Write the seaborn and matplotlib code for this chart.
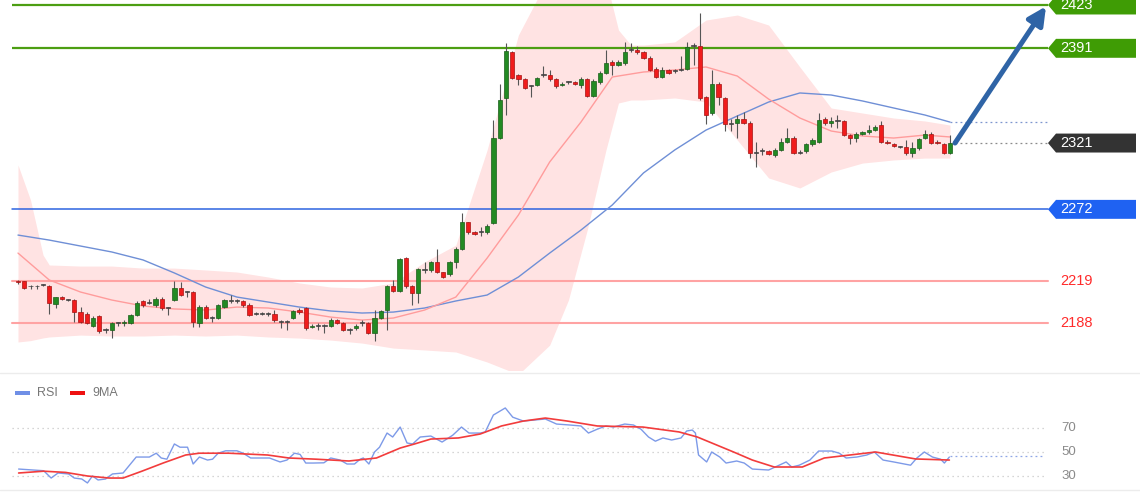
import numpy as np
import pandas as pd
import matplotlib
matplotlib.use("Agg")
import matplotlib.pyplot as plt
import seaborn as sns
from matplotlib.patches import Polygon, Rectangle

# ---------------- data ----------------
opens = [2219, 2219, 2215, 2215, 2216, 2215, 2202, 2207, 2205, 2205,
         2196, 2195, 2186, 2193, 2183, 2183, 2188, 2188, 2188, 2194,
         2204, 2203, 2201, 2206, 2199, 2205, 2214, 2211, 2211, 2188,
         2200, 2192, 2192, 2200, 2204, 2204, 2204, 2201, 2195, 2195,
         2195, 2195, 2189, 2189, 2192, 2198, 2199, 2185, 2186, 2186,
         2186, 2190, 2188, 2183, 2184, 2188, 2188, 2181, 2192, 2198,
         2215, 2212, 2236, 2215, 2210, 2227, 2227, 2233, 2226, 2224,
         2233, 2243, 2263, 2255, 2255, 2255, 2262, 2325, 2354, 2388,
         2371, 2368, 2363, 2364, 2371, 2371, 2368, 2364, 2366, 2366,
         2364, 2368, 2356, 2366, 2373, 2381, 2379, 2380, 2390, 2390,
         2388, 2384, 2376, 2370, 2375, 2374, 2375, 2376, 2393, 2393,
         2355, 2343, 2365, 2354, 2335, 2336, 2339, 2336, 2314, 2315,
         2315, 2312, 2316, 2322, 2325, 2314, 2315, 2320, 2322, 2339,
         2336, 2337, 2337, 2327, 2325, 2328, 2329, 2331, 2334, 2322,
         2320, 2318, 2318, 2314, 2317, 2325, 2328, 2322, 2320, 2314]
closes = [2218, 2214, 2215, 2215, 2216, 2203, 2207, 2206, 2205, 2196,
          2189, 2188, 2192, 2182, 2183, 2188, 2188, 2189, 2194, 2203,
          2201, 2203, 2206, 2199, 2199, 2214, 2209, 2211, 2189, 2200,
          2192, 2192, 2201, 2205, 2204, 2204, 2201, 2194, 2195, 2195,
          2195, 2190, 2189, 2189, 2197, 2196, 2184, 2186, 2186, 2186,
          2190, 2188, 2183, 2183, 2186, 2188, 2181, 2192, 2197, 2215,
          2212, 2235, 2215, 2210, 2228, 2227, 2233, 2226, 2222, 2233,
          2243, 2263, 2255, 2254, 2255, 2260, 2325, 2353, 2389, 2369,
          2368, 2362, 2363, 2369, 2371, 2368, 2363, 2365, 2366, 2365,
          2368, 2356, 2367, 2373, 2380, 2379, 2381, 2388, 2390, 2388,
          2384, 2375, 2370, 2375, 2373, 2374, 2375, 2392, 2393, 2354,
          2342, 2365, 2355, 2335, 2335, 2339, 2336, 2314, 2314, 2315,
          2313, 2316, 2322, 2325, 2314, 2314, 2320, 2323, 2338, 2336,
          2337, 2337, 2327, 2325, 2328, 2329, 2331, 2333, 2322, 2321,
          2319, 2318, 2314, 2317, 2324, 2328, 2321, 2321, 2314, 2321]
highs = [2220, 2219, 2216, 2216, 2217, 2216, 2207, 2208, 2206, 2206,
         2200, 2196, 2193, 2194, 2184, 2189, 2189, 2190, 2195, 2204,
         2205, 2206, 2207, 2207, 2200, 2219, 2218, 2212, 2212, 2201,
         2201, 2193, 2202, 2206, 2209, 2206, 2205, 2203, 2196, 2196,
         2196, 2198, 2190, 2190, 2198, 2199, 2200, 2187, 2188, 2187,
         2192, 2191, 2189, 2184, 2187, 2190, 2189, 2198, 2198, 2216,
         2220, 2236, 2237, 2216, 2229, 2233, 2234, 2243, 2226, 2234,
         2244, 2269, 2263, 2256, 2259, 2261, 2338, 2365, 2395, 2389,
         2372, 2369, 2364, 2370, 2378, 2375, 2369, 2366, 2367, 2367,
         2370, 2369, 2368, 2374, 2390, 2382, 2382, 2396, 2395, 2393,
         2389, 2385, 2377, 2377, 2376, 2376, 2385, 2396, 2395, 2417,
         2356, 2375, 2366, 2355, 2339, 2342, 2344, 2337, 2322, 2317,
         2316, 2317, 2325, 2332, 2326, 2316, 2321, 2325, 2343, 2340,
         2340, 2342, 2338, 2328, 2329, 2330, 2334, 2334, 2337, 2323,
         2321, 2319, 2323, 2322, 2325, 2331, 2329, 2323, 2321, 2327]
lows = [2217, 2213, 2213, 2213, 2215, 2195, 2199, 2205, 2204, 2189,
        2188, 2187, 2185, 2181, 2181, 2177, 2186, 2186, 2187, 2193,
        2200, 2202, 2200, 2198, 2194, 2204, 2208, 2207, 2185, 2185,
        2191, 2189, 2191, 2199, 2203, 2203, 2200, 2193, 2194, 2194,
        2193, 2189, 2184, 2183, 2191, 2195, 2183, 2184, 2183, 2181,
        2185, 2187, 2182, 2180, 2183, 2186, 2180, 2175, 2191, 2183,
        2211, 2211, 2214, 2201, 2203, 2225, 2226, 2225, 2221, 2223,
        2229, 2242, 2254, 2253, 2252, 2254, 2261, 2324, 2342, 2368,
        2364, 2361, 2355, 2363, 2370, 2367, 2362, 2363, 2365, 2364,
        2362, 2355, 2355, 2365, 2372, 2371, 2378, 2379, 2388, 2387,
        2383, 2374, 2369, 2369, 2372, 2373, 2374, 2375, 2379, 2353,
        2335, 2342, 2349, 2330, 2330, 2325, 2335, 2310, 2303, 2312,
        2312, 2311, 2315, 2321, 2313, 2313, 2314, 2319, 2321, 2334,
        2333, 2332, 2326, 2320, 2322, 2327, 2328, 2330, 2321, 2320,
        2318, 2317, 2312, 2311, 2316, 2324, 2320, 2320, 2313, 2313]

band_idx = [0, 2, 4, 5, 10, 15, 20, 25, 30, 35, 40, 45, 50, 55, 60, 65, 70, 75, 80,
            85, 88, 91, 94, 96, 98, 100, 105, 110, 115, 120, 125, 130, 135, 140, 145, 149]
band_upper = [2304.8, 2278.9, 2238.3, 2230.9, 2230.1, 2230.1, 2228.6, 2228.6, 2227.2,
              2225.7, 2222.0, 2217.6, 2214.6, 2213.9, 2217.6, 2233.1, 2245.6, 2315.9,
              2400.8, 2445.0, 2449.0, 2450.0, 2441.5, 2404.5, 2393.4, 2393.4, 2395.7,
              2411.9, 2415.6, 2408.2, 2377.2, 2346.9, 2343.2, 2339.5, 2337.3, 2334.3]
band_lower = [2174.0, 2175.0, 2177.0, 2177.7, 2179.1, 2178.4, 2178.4, 2179.1, 2178.4,
              2179.1, 2177.7, 2176.9, 2175.4, 2173.2, 2169.5, 2168.1, 2166.6, 2159.2,
              2150.0, 2171.7, 2205.0, 2256.7, 2315.9, 2350.6, 2352.8, 2352.8, 2354.3,
              2351.3, 2323.2, 2295.2, 2287.8, 2299.6, 2306.2, 2308.5, 2309.9, 2309.9]

ma_idx = [0, 5, 10, 15, 20, 25, 30, 35, 40, 45, 50, 55, 60, 65, 70, 75, 80, 85, 90,
          95, 100, 105, 110, 115, 120, 125, 130, 135, 140, 145, 149]
ma_fast = [2239.7, 2219.8, 2210.9, 2205.0, 2200.6, 2198.4, 2197.6, 2199.8, 2199.1,
           2196.1, 2192.4, 2190.2, 2191.7, 2197.6, 2207.2, 2236.0, 2267.8, 2307.0,
           2336.5, 2369.8, 2373.5, 2375.0, 2377.2, 2370.5, 2353.5, 2339.5, 2329.9,
           2326.2, 2324.7, 2326.9, 2325.5]
ma_slow = [2253.0, 2249.3, 2244.9, 2240.5, 2234.6, 2225.0, 2214.6, 2207.2, 2203.5,
           2199.8, 2196.9, 2195.4, 2196.1, 2199.1, 2204.3, 2208.7, 2222.0, 2239.7,
           2256.7, 2275.2, 2298.9, 2315.9, 2330.6, 2341.0, 2351.3, 2358.0, 2356.5,
           2352.1, 2346.9, 2341.7, 2336.5]

levels_green = [2423, 2391]
level_blue = 2272
levels_red = [2219, 2188]
last_price = 2321

rsi_t = [0.1, 4.1, 5.3, 6.4, 8.1, 9.0, 10.2, 11.1, 11.9, 12.8, 14.0, 15.1, 16.8, 18.9,
         21.0, 22.1, 22.9, 23.8, 25.0, 25.9, 27.1, 28.0, 29.0, 30.3, 31.1, 32.0, 33.2,
         35.0, 36.0, 37.2, 40.2, 41.9, 43.0, 44.2, 45.1, 46.0, 47.2, 48.9, 50.0, 51.5,
         52.6, 53.8, 54.7, 55.2, 56.1, 57.0, 57.8, 59.0, 59.9, 61.1, 62.2, 63.1, 64.3,
         66.0, 67.8, 69.5, 70.9, 72.1, 73.9, 74.7, 76.0, 77.9, 79.1, 80.8, 84.3, 86.1,
         88.2, 90.0, 91.2, 92.6, 94.0, 95.2, 97.0, 98.4, 99.6, 100.8, 101.9, 103.1,
         104.5, 106.0, 106.9, 107.8, 108.3, 108.8, 110.1, 110.9, 112.2, 113.2, 114.9,
         116.1, 117.4, 120.0, 121.4, 122.8, 123.7, 124.9, 126.6, 128.0, 130.1, 131.3,
         132.4, 134.1, 135.7, 136.9, 138.3, 140.0, 142.7, 143.7, 144.9, 146.2, 147.5,
         148.1, 148.9]
rsi_v = [35.8, 34.4, 28.3, 32.5, 31.7, 28.3, 27.5, 24.2, 30.0, 26.7, 27.5, 31.7, 32.5,
         45.8, 45.8, 49.0, 45.0, 44.0, 56.7, 54.0, 54.0, 40.0, 45.8, 43.3, 44.0, 49.0,
         51.0, 51.0, 49.0, 45.0, 45.0, 41.7, 43.3, 49.0, 48.0, 40.8, 40.8, 41.0, 45.0,
         43.3, 40.0, 40.0, 44.0, 45.0, 40.0, 50.0, 54.0, 65.8, 62.5, 70.8, 57.5, 56.7,
         62.5, 63.3, 58.3, 64.0, 70.8, 65.8, 65.8, 66.7, 80.8, 86.7, 79.0, 75.8, 77.5,
         73.3, 72.5, 71.7, 65.8, 69.0, 71.7, 70.8, 73.3, 72.5,
         69.0, 62.5, 59.0, 61.7, 60.0, 61.7, 67.5, 68.3, 65.8, 47.5, 41.7, 50.0, 45.8,
         40.8, 42.5, 40.8, 35.8, 35.0, 38.3, 41.7, 37.5, 39.0, 43.3, 50.8, 50.8, 49.0,
         45.0, 45.8, 47.5, 50.0, 43.3, 41.7, 39.0, 45.0, 50.0, 45.8, 44.0, 40.8, 45.8]
ma9_t = [0.1, 4.1, 7.6, 11.1, 14.6, 16.8, 19.8, 23.3, 26.8, 29.0, 33.7, 39.9, 43.3, 47.7,
         52.9, 57.3, 61.1, 63.4, 66.0, 70.4, 73.9, 77.3, 80.8, 84.3, 87.8, 92.6, 99.9,
         105.7, 108.6, 114.4, 117.4, 120.9, 125.4, 128.9, 137.1, 143.5, 148.9]
ma9_v = [32.5, 34.0, 33.0, 30.0, 28.3, 28.3, 34.0, 41.0, 47.5, 49.0, 49.0, 47.5, 45.0,
         44.0, 42.5, 45.0, 53.3, 56.7, 60.8, 61.7, 65.0, 71.7, 75.8, 78.3, 75.8,
         71.7, 70.8, 66.7, 62.5, 50.0, 43.3, 37.5, 37.5, 45.0, 50.0, 44.2, 43.3]
rsi_levels = [70, 50, 30]
rsi_last = 46.7

# ---------------- style ----------------
sns.set_theme(style="white")
plt.rcParams['font.family'] = ['Liberation Sans', 'DejaVu Sans']

W, H = 1140, 500
fig = plt.figure(figsize=(W / 100, H / 100), dpi=100)
fig.patch.set_facecolor("white")

ax = fig.add_axes([0, 130 / H, 1, 370 / H])   # price panel: pixel rows 0..370
ax2 = fig.add_axes([0, 0, 1, 125 / H])        # RSI panel: pixel rows 375..500
for a in (ax, ax2):
    a.set_facecolor("none")
    for s in a.spines.values():
        s.set_visible(False)

PX0, DX = 18.0, 6.255
for a in (ax, ax2):
    a.set_xlim(-PX0 / DX, (W - PX0) / DX)
ax.set_ylim(2153.3, 2426.7)
ax2.set_ylim(10, 114.17)

def px(xpix):
    return (xpix - PX0) / DX

n = len(opens)
idx = np.arange(n)
o = np.array(opens, float); c = np.array(closes, float)
h = np.maximum(np.array(highs, float), np.maximum(o, c))
l = np.minimum(np.array(lows, float), np.minimum(o, c))

# Bollinger band fill
ax.fill_between(band_idx, band_lower, band_upper, color="#ffdede", alpha=0.85,
                linewidth=0, zorder=1)

# moving averages (seaborn)
df_ma = pd.DataFrame({"i": ma_idx, "fast": ma_fast, "slow": ma_slow})
sns.lineplot(data=df_ma, x="i", y="slow", ax=ax, color="#6f8fd6", linewidth=1.0, zorder=3)
sns.lineplot(data=df_ma, x="i", y="fast", ax=ax, color="#ff9c9c", linewidth=1.0, zorder=3)

# horizontal levels
x_line0, x_line1 = px(12), px(1048)
for lv in levels_green:
    ax.plot([x_line0, x_line1], [lv, lv], color="#4c9e12", lw=1.6, zorder=2,
            solid_capstyle="butt")
ax.plot([x_line0, x_line1], [level_blue, level_blue], color="#2d64e0", lw=1.1, zorder=2)
for lv in levels_red:
    ax.plot([x_line0, x_line1], [lv, lv], color="#ffa3a3", lw=1.5, zorder=2)

ax.plot([px(955), x_line1], [last_price, last_price], color="#8a8a8a", lw=0.9,
        ls=(0, (1.5, 2.5)), zorder=2)
ax.plot([px(950), x_line1], [ma_slow[-1], ma_slow[-1]], color="#7d95cf", lw=0.9,
        ls=(0, (1.5, 2.5)), zorder=2)

# candles
ax.vlines(idx, l, h, color="#555555", lw=0.8, zorder=4)
body_w = 0.68
for i in range(n):
    lo_b = min(o[i], c[i]); hi_b = max(o[i], c[i])
    if c[i] > o[i]:
        fc, ec = "#238a23", "#1a5e1a"
    elif c[i] < o[i]:
        fc, ec = "#f01c1c", "#a51212"
    else:
        fc, ec = "#444444", "#444444"
    hb = max(hi_b - lo_b, 0.7)
    ax.add_patch(Rectangle((i - body_w / 2, lo_b), body_w, hb, facecolor=fc,
                           edgecolor=ec, lw=0.5, zorder=5))

# tags on the right
def tag(y, text, face, tcol="white"):
    hh = 7.0
    tip, b0, b1 = px(1048), px(1056), px(1136)
    poly = Polygon([[tip, y], [b0, y + hh], [b1, y + hh], [b1, y - hh], [b0, y - hh]],
                   closed=True, facecolor=face, edgecolor="none", zorder=6, clip_on=True)
    ax.add_patch(poly)
    ax.text(px(1060), y, text, color=tcol, ha="left", va="center", fontsize=10.5,
            zorder=7)

tag(levels_green[0], str(levels_green[0]), "#3f9c05")
tag(levels_green[1], str(levels_green[1]), "#3f9c05")
tag(last_price, str(last_price), "#333333")
tag(level_blue, str(level_blue), "#1f62f2")
for lv in levels_red:
    ax.text(px(1060), lv, str(lv), color="#ff2b2b", ha="left", va="center",
            fontsize=10.5, zorder=7)

# forecast arrow
ax.annotate("", xy=(px(1046), 2422.0), xytext=(px(955), last_price),
            arrowprops=dict(arrowstyle="-|>,head_length=0.9,head_width=0.45",
                            color="#2f64a6", lw=3.6, shrinkA=0, shrinkB=0), zorder=8)

# ---------------- RSI panel ----------------
for lv in rsi_levels:
    ax2.plot([px(12), px(1045)], [lv, lv], color="#c8c8c8", lw=0.9,
             ls=(0, (1, 3)), zorder=1)
    ax2.text(px(1061), lv, str(lv), color="#8a8a8a", ha="left", va="center",
             fontsize=9.5)
ax2.plot([px(950), px(1045)], [rsi_last, rsi_last], color="#8fa6e6", lw=0.9,
         ls=(0, (1.5, 2.5)), zorder=1)

df_rsi = pd.DataFrame({"t": rsi_t, "v": rsi_v})
df_ma9 = pd.DataFrame({"t": ma9_t, "v": ma9_v})
sns.lineplot(data=df_rsi, x="t", y="v", ax=ax2, color="#7d9ae8", linewidth=1.0,
             zorder=3)
sns.lineplot(data=df_ma9, x="t", y="v", ax=ax2, color="#f23c3c", linewidth=1.2,
             zorder=4)
for a in (ax, ax2):
    a.set_xlabel(""); a.set_ylabel("")
    a.set_xticks([]); a.set_yticks([])

# legend for RSI panel (figure pixel coordinates)
def fx(xp): return xp / W
def fy(yp): return 1 - yp / H
fig.patches.append(Rectangle((fx(15), fy(395)), 15 / W, 4 / H, transform=fig.transFigure,
                             facecolor="#6f8fe6", edgecolor="none"))
fig.text(fx(37), fy(392.5), "RSI", color="#777777", fontsize=9, va="center", ha="left")
fig.patches.append(Rectangle((fx(70), fy(395)), 15 / W, 4 / H, transform=fig.transFigure,
                             facecolor="#ee1111", edgecolor="none"))
fig.text(fx(92), fy(392.5), "9MA", color="#777777", fontsize=9, va="center", ha="left")

for yp in (373, 490):
    fig.add_artist(plt.Line2D([0, 1], [fy(yp), fy(yp)], transform=fig.transFigure,
                              color="#ececec", lw=1.0))

fig.savefig("out.png", dpi=100, facecolor="white")
